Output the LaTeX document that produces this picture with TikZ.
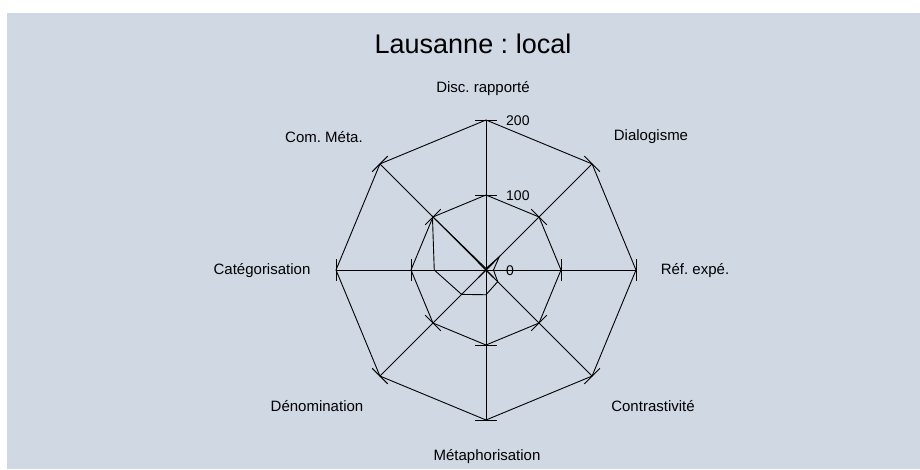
\documentclass[tikz,border=0pt]{standalone}
\usepackage{fontspec}
\setmainfont{Liberation Sans}
\frenchspacing
\definecolor{chartbg}{HTML}{D0D8E4}
\begin{document}
\begin{tikzpicture}[x=1pt,y=1pt]

      \tikzset{axislabel/.style={font=\fontsize{15}{17}\selectfont, inner sep=0pt},
               scalelabel/.style={font=\fontsize{14}{16}\selectfont, inner sep=0pt, anchor=west},
               gridline/.style={line width=0.9pt},
               tickmark/.style={line width=0.9pt}}
      \useasboundingbox (0,0) rectangle (920,469);
      \fill[chartbg] (7,0) rectangle (920,456);
%% Title
      \node[font=\fontsize{27}{30}\selectfont, inner sep=0pt] (title) at (473,425) {Lausanne : local};
      \begin{scope}[shift={(486,199)}]
%% Axis ends
      	\coordinate (O) at (0,0);
      	\coordinate (dr) at (90:150);
      	\coordinate (dg) at (45:150);
      	\coordinate (re) at (0:150);
      	\coordinate (ct) at (-45:150);
      	\coordinate (mp) at (-90:150);
      	\coordinate (dn) at (-135:150);
      	\coordinate (cg) at (180:150);
      	\coordinate (cm) at (135:150);
%% Axis labels
      	\node[axislabel] (ldr) at (-3,181) {Disc. rapporté};
      	\node[axislabel] (ldg) at (165,133) {Dialogisme};
      	\node[axislabel] (lre) at (209,-1) {Réf. expé.};
      	\node[axislabel] (lct) at (167,-136) {Contrastivité};
      	\node[axislabel] (lmp) at (1,-187) {Métaphorisation};
      	\node[axislabel] (ldn) at (-169,-136) {Dénomination};
      	\node[axislabel] (lcg) at (-224,-1) {Catégorisation};
      	\node[axislabel] (lcm) at (-162,133) {Com. Méta.};
%% Scale
      	\node[scalelabel] (s200) at (20,149) {200};
      	\node[scalelabel] (s100) at (20,74) {100};
      	\node[scalelabel] (s0) at (20,-1) {0};
%Edges
		\path[gridline] (O) edge (dr);
		\path[gridline] (O) edge (dg);
		\path[gridline] (O) edge (re);
		\path[gridline] (O) edge (ct);
		\path[gridline] (O) edge (mp);
		\path[gridline] (O) edge (dn);
		\path[gridline] (O) edge (cg);
		\path[gridline] (O) edge (cm);
%Rings
		\draw[gridline] (dr) -- (dg) -- (re) -- (ct) -- (mp) -- (dn) -- (cg) -- (cm) -- cycle;
		\draw[gridline] (90:75) -- (45:75) -- (0:75) -- (-45:75) -- (-90:75) -- (-135:75) -- (180:75) -- (135:75) -- cycle;
%Ticks
		\draw[tickmark, rotate=90] (0,-11) -- (0,11) (75,-11) -- (75,11) (150,-11) -- (150,11);
		\draw[tickmark, rotate=45] (0,-11) -- (0,11) (75,-11) -- (75,11) (150,-11) -- (150,11);
		\draw[tickmark, rotate=0] (0,-11) -- (0,11) (75,-11) -- (75,11) (150,-11) -- (150,11);
		\draw[tickmark, rotate=-45] (0,-11) -- (0,11) (75,-11) -- (75,11) (150,-11) -- (150,11);
		\draw[tickmark, rotate=-90] (0,-11) -- (0,11) (75,-11) -- (75,11) (150,-11) -- (150,11);
		\draw[tickmark, rotate=-135] (0,-11) -- (0,11) (75,-11) -- (75,11) (150,-11) -- (150,11);
		\draw[tickmark, rotate=180] (0,-11) -- (0,11) (75,-11) -- (75,11) (150,-11) -- (150,11);
		\draw[tickmark, rotate=135] (0,-11) -- (0,11) (75,-11) -- (75,11) (150,-11) -- (150,11);
%Data
		\draw[gridline] (90:1.5) -- (45:18.75) -- (0:7.5) -- (-45:16.5) -- (-90:24.75) -- (-135:34.5) -- (180:51.75) -- (135:75.75) -- cycle;
      \end{scope}

	\end{tikzpicture}
\end{document}
